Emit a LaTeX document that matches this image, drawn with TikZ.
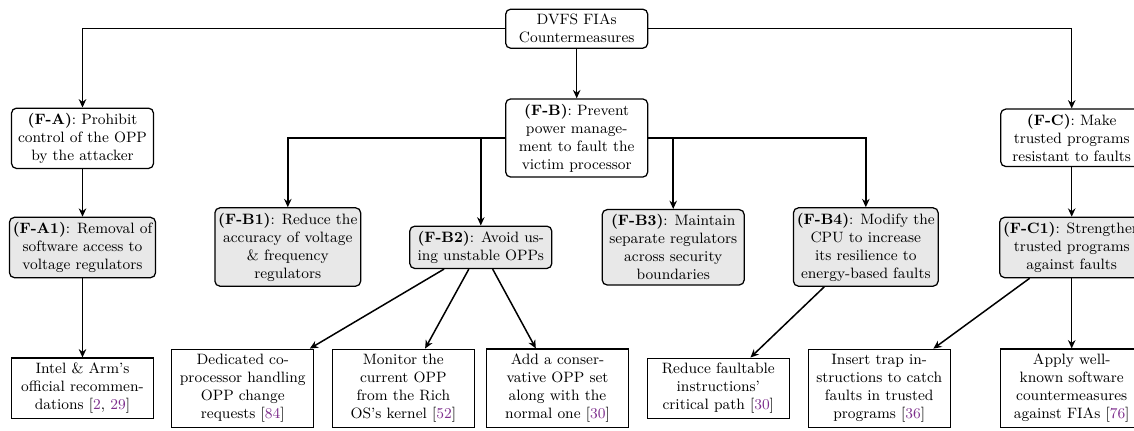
\documentclass[tikz,border=0pt]{standalone}
\usetikzlibrary{arrows.meta}
\definecolor{citepurple}{RGB}{125,45,140}
\newcommand{\refnum}[1]{\textcolor{citepurple}{#1}}

\begin{document}
\begin{tikzpicture}[x=0.6pt,y=-0.6pt,
	box/.style={draw,line width=0.75pt,rounded corners=3pt,align=center,minimum width=85.2pt,inner xsep=2pt,inner ysep=3pt,font=\fontsize{9}{10.8}\selectfont},
	subbox/.style={box,fill=gray!18},
	leaf/.style={box,rounded corners=0pt},
	link/.style={-{Stealth[length=5pt,width=4.5pt]},line width=0.9pt}]
		
		\useasboundingbox (0,0) rectangle (1134,430);
		
		% top and first level
		\node[box] (root) at (576.7,28.7) {DVFS FIAs\\Countermeasures};
		\node[box] (fa) at (82.5,138.3) {\textbf{(F-A)}: Prohibit\\control of the OPP\\by the attacker};
		\node[box] (fb) at (576.7,138) {\textbf{(F-B)}: Prevent\\power manage-\\ment to fault the\\victim processor};
		\node[box] (fc) at (1071.7,137.8) {\textbf{(F-C)}: Make\\trusted programs\\resistant to faults};
		
		% second level
		\node[subbox] (fa1) at (82.5,247.5) {\textbf{(F-A1)}: Removal of\\software access to\\voltage regulators};
		\node[subbox] (fb1) at (287.8,247) {\textbf{(F-B1)}: Reduce the\\accuracy of voltage\\\& frequency\\regulators};
		\node[subbox] (fb2) at (480.8,247.3) {\textbf{(F-B2)}: Avoid us-\\ing unstable OPPs};
		\node[subbox] (fb3) at (673.2,247.3) {\textbf{(F-B3)}: Maintain\\separate regulators\\across security\\boundaries};
		\node[subbox] (fb4) at (865.8,247) {\textbf{(F-B4)}: Modify the\\CPU to increase\\its resilience to\\energy-based faults};
		\node[subbox] (fc1) at (1071.7,247.5) {\textbf{(F-C1)}: Strengthen\\trusted programs\\against faults};
		
		% leaves
		\node[leaf] (intel) at (82.5,388.3) {Intel \& Arm's\\official recommen-\\dations [\refnum{2}, \refnum{29}]};
		\node[leaf] (coproc) at (242.8,388.3) {Dedicated co-\\processor handling\\OPP change\\requests [\refnum{84}]};
		\node[leaf] (monitor) at (403.3,388.3) {Monitor the\\current OPP\\from the Rich\\OS's kernel [\refnum{52}]};
		\node[leaf] (conserv) at (557.5,388.3) {Add a conser-\\vative OPP set\\along with the\\normal one [\refnum{30}]};
		\node[leaf] (critpath) at (718.3,388.3) {Reduce faultable\\instructions'\\critical path [\refnum{30}]};
		\node[leaf] (trap) at (879.2,388.3) {Insert trap in-\\structions to catch\\faults in trusted\\programs [\refnum{36}]};
		\node[leaf] (swcm) at (1071.7,388.3) {Apply well-\\known software\\countermeasures\\against FIAs [\refnum{76}]};
		
		\draw[link] (root.west) -| (fa);
		\draw[link] (root.east) -| (fc);
		\draw[link] (root) -- (fb);
		
		\foreach \child in {fb1,fb2}
		\draw[link] (fb.west) -| (\child);
		\foreach \child in {fb3,fb4}
		\draw[link] (fb.east) -| (\child);
		
		\draw[link] (fa) -- (fa1);
		\draw[link] (fc) -- (fc1);
		\draw[link] (fa1) -- (intel);
		\foreach \child in {coproc,monitor,conserv}
		\draw[link] (fb2) -- (\child);
		\draw[link] (fb4) -- (critpath);
		\draw[link] (fc1) -- (trap);
		\draw[link] (fc1) -- (swcm);
	\end{tikzpicture}
\end{document}
